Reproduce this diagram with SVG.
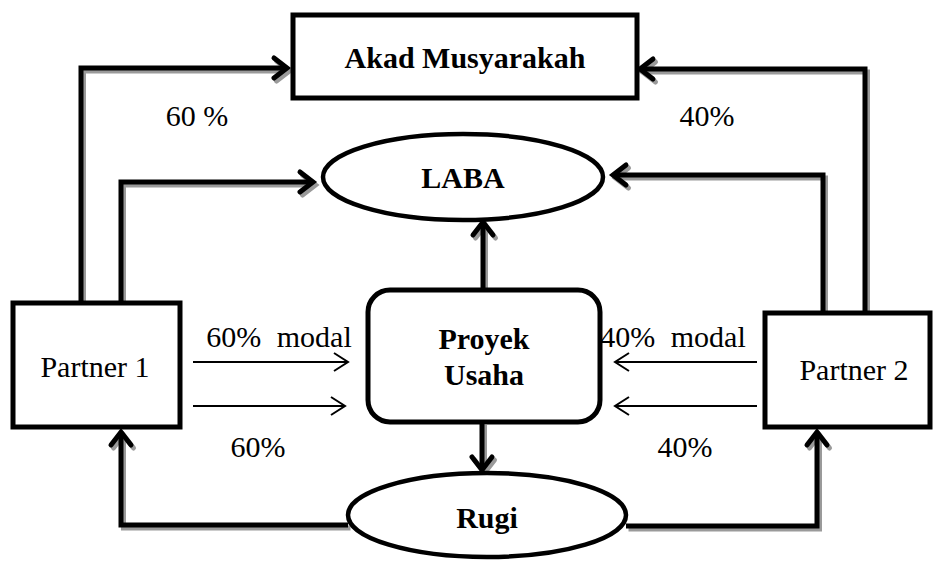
<svg xmlns="http://www.w3.org/2000/svg" width="935" height="561" viewBox="0 0 935 561">
<style>
.node{fill:#fff;stroke:#000;stroke-width:5}
.ell{fill:#fff;stroke:#000;stroke-width:4.5}
.t{font-family:"Liberation Serif","Times New Roman",serif;font-size:30px;fill:#000;text-anchor:middle}
.b{font-weight:bold}
.thick{fill:none;stroke:#000;stroke-width:5;marker-end:url(#ah)}
.shadow{fill:none;stroke:#9a9a9a;stroke-width:5;marker-end:url(#ahs)}
.thin{fill:none;stroke:#000;stroke-width:2;marker-end:url(#at)}
</style>
<defs>
<marker id="ah" markerUnits="userSpaceOnUse" markerWidth="30" markerHeight="30" refX="0" refY="0" viewBox="-20 -15 25 30" orient="auto" overflow="visible">
<path d="M-13,-10 L0,0 L-13,10" fill="none" stroke="#000" stroke-width="5" stroke-linecap="round" stroke-linejoin="miter"/>
</marker>
<marker id="ahs" markerUnits="userSpaceOnUse" markerWidth="30" markerHeight="30" refX="0" refY="0" viewBox="-20 -15 25 30" orient="auto" overflow="visible">
<path d="M-13,-10 L0,0 L-13,10" fill="none" stroke="#9a9a9a" stroke-width="5" stroke-linecap="round"/>
</marker>
<marker id="at" markerUnits="userSpaceOnUse" markerWidth="30" markerHeight="30" refX="0" refY="0" viewBox="-20 -15 25 30" orient="auto" overflow="visible">
<path d="M-14,-9 L0,0 L-14,9" fill="none" stroke="#000" stroke-width="2"/>
</marker>
</defs>
<g id="connectors">
<g transform="translate(2.5,3)">
<path class="shadow" d="M81,303 V68 H287"/>
<path class="shadow" d="M121,303 V182 H313"/>
<path class="shadow" d="M865,313 V69 H640"/>
<path class="shadow" d="M823,313 V175 H613"/>
<path class="shadow" d="M483,290 V222"/>
<path class="shadow" d="M482,422 V470"/>
<path class="shadow" d="M348,525 H121 V432"/>
<path class="shadow" d="M626,526 H817 V432"/>
</g>
<path class="thick" d="M81,303 V68 H287"/>
<path class="thick" d="M121,303 V182 H313"/>
<path class="thick" d="M865,313 V69 H640"/>
<path class="thick" d="M823,313 V175 H613"/>
<path class="thick" d="M483,290 V222"/>
<path class="thick" d="M482,422 V470"/>
<path class="thick" d="M348,525 H121 V432"/>
<path class="thick" d="M626,526 H817 V432"/>
<path class="thin" d="M193,362 H348"/>
<path class="thin" d="M193,406 H345"/>
<path class="thin" d="M757,362 H615"/>
<path class="thin" d="M757,406 H615"/>
</g>
<g id="akad">
<rect class="node" x="293" y="15" width="344" height="83"/>
<text class="t b" x="465" y="68">Akad Musyarakah</text>
</g>
<g id="laba">
<ellipse class="ell" cx="463" cy="177" rx="140" ry="43"/>
<text class="t b" x="463" y="188">LABA</text>
</g>
<g id="proyek">
<rect class="node" x="368" y="290" width="232" height="132" rx="22" ry="22"/>
<text class="t b" x="484" y="349">Proyek</text>
<text class="t b" x="484" y="385">Usaha</text>
</g>
<g id="partner1">
<rect class="node" x="13" y="303" width="167" height="124"/>
<text class="t" x="95" y="377">Partner 1</text>
</g>
<g id="partner2">
<rect class="node" x="765" y="313" width="165" height="114"/>
<text class="t" x="854" y="380">Partner 2</text>
</g>
<g id="rugi">
<ellipse class="ell" cx="487" cy="515" rx="139" ry="42"/>
<text class="t b" x="487" y="528">Rugi</text>
</g>
<g id="labels">
<text class="t" x="197" y="126">60 %</text>
<text class="t" x="707" y="126">40%</text>
<text class="t" x="279" y="347" word-spacing="8">60% modal</text>
<text class="t" x="673" y="347" word-spacing="8">40% modal</text>
<text class="t" x="258" y="457">60%</text>
<text class="t" x="685" y="457">40%</text>
</g>
</svg>
